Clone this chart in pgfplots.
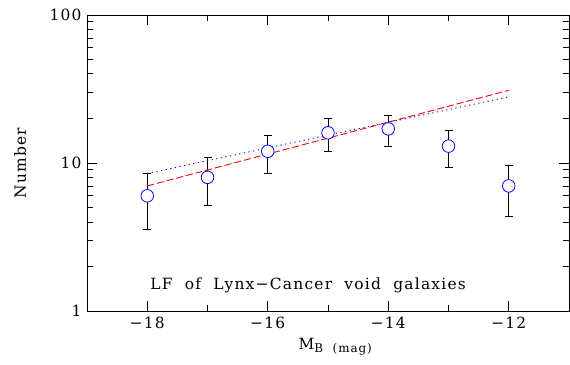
\documentclass[border=0pt]{standalone}
\usepackage{pgfplots}
\pgfplotsset{compat=1.18}
\usepackage{fontspec}
\setmainfont[LetterSpace=8]{DejaVu Serif}
\begin{document}
\begin{tikzpicture}
\begin{axis}[name=ax, scale only axis, width=482bp, height=296bp,
 xmin=-19, xmax=-11, ymode=log, ymin=1, ymax=100,
 xtick={-18,-16,-14,-12}, xticklabels={−18,−16,−14,−12},
 minor xtick={-19,-17,-15,-13,-11},
 ytick={1,10,100}, yticklabels={1,10,100},
 minor ytick={2,3,4,5,6,7,8,9,20,30,40,50,60,70,80,90},
 tick align=inside, major tick length=10bp, minor tick length=6bp,
 tick style={black, line width=0.8pt},
 axis line style={line width=0.8pt},
 ticklabel style={font=\fontsize{15.5}{17}\selectfont},
 xticklabel style={yshift=-3bp},
 yticklabel style={xshift=-2bp},
 every axis y label/.style={at={(axis description cs:-0.139,0.5)}, rotate=90, anchor=center, font=\fontsize{15.5}{17}\selectfont},
 every axis x label/.style={at={(axis description cs:0.515,-0.12)}, anchor=center, font=\fontsize{15.5}{17}\selectfont},
 ylabel={Number},
 xlabel={M\raisebox{-0.35ex}{\fontsize{12}{13}\selectfont B\ \ (mag)}},
 clip=false,
]
\addplot[draw=blue, only marks, mark=*, mark size=6.3bp, mark options={draw=blue, fill=white, line width=0.8pt},
 error bars/.cd, y dir=both, y explicit,
 error bar style={black, line width=0.8pt},
 error mark options={rotate=90, black, mark size=4bp, line width=0.8pt}]
 coordinates {
 (-18,6) +- (0,2.45)
 (-17,8) +- (0,2.83)
 (-16,12) +- (0,3.46)
 (-15,16) +- (0,4)
 (-14,17) +- (0,4.12)
 (-13,13) +- (0,3.61)
 (-12,7) +- (0,2.65)
 };
\addplot[red, dashed, line width=0.9pt, dash pattern=on 7bp off 3bp] coordinates {(-18,7.0) (-12,31)};
\addplot[blue, line width=0.9pt, dash pattern=on 1.2bp off 3.5bp] coordinates {(-18,8.5) (-12,28)};
\node[font=\fontsize{15.5}{17}\selectfont, anchor=center] at (axis cs:-15.33,1.5) {LF\ \ of\ \ Lynx−Cancer\ \ void\ \ galaxies};
\end{axis}
\pgfresetboundingbox
\path (ax.south west) ++(-87bp,-53bp) coordinate (bl);
\path (ax.north east) ++(1bp,15bp) coordinate (tr);
\useasboundingbox (bl) rectangle (tr);
\end{tikzpicture}
\end{document}
